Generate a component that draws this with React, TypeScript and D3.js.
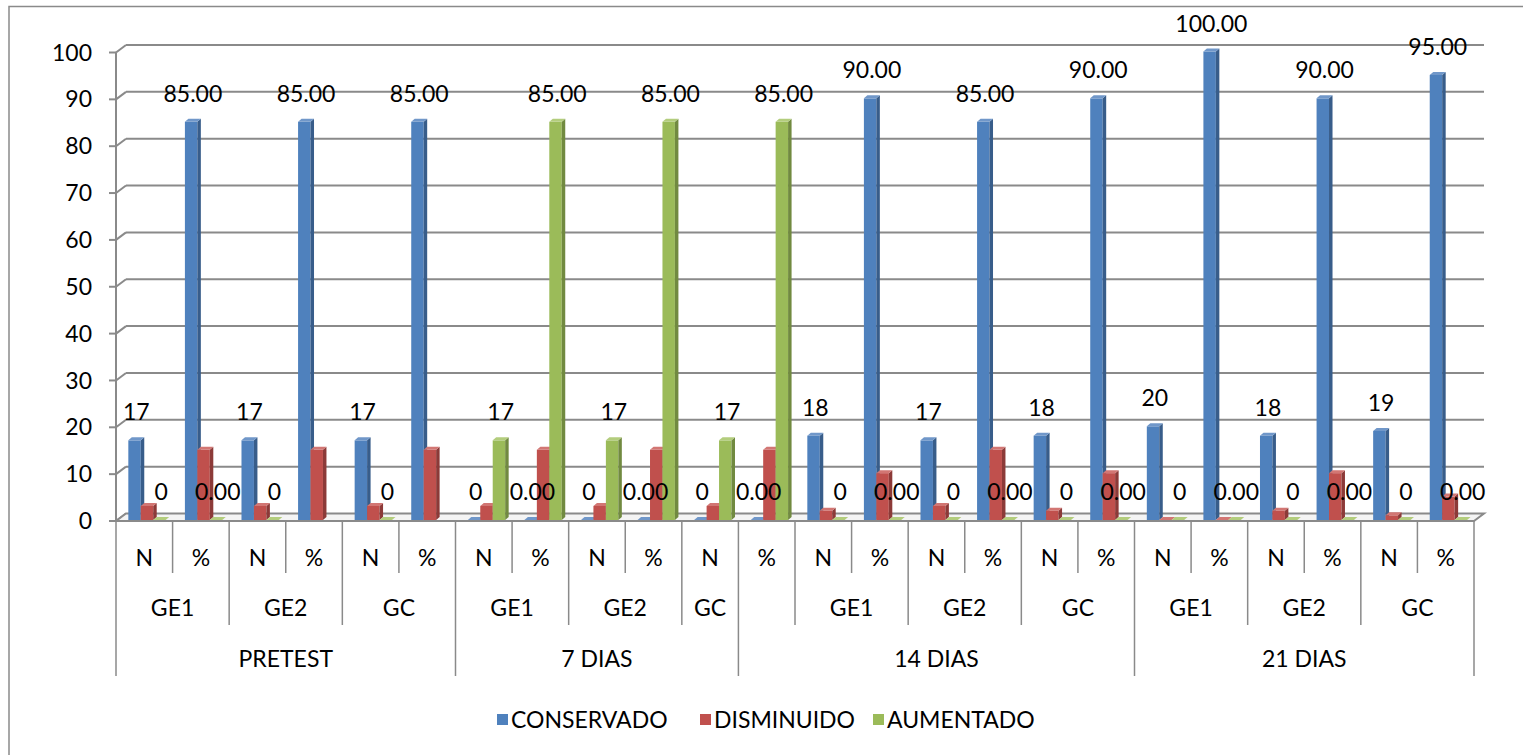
import React from "react";
import * as d3 from "d3";

// Category axis: measurement columns, sub-groups and periods
const categories = [
  "N", "%", "N", "%", "N", "%",
  "N", "%", "N", "%", "N",
  "%", "N", "%", "N", "%", "N", "%",
  "N", "%", "N", "%", "N", "%",
];
const groupLabels = ["GE1", "GE2", "GC", "GE1", "GE2", "GC", "", "GE1", "GE2", "GC", "GE1", "GE2", "GC"];
const groupSpans = [2, 2, 2, 2, 2, 1, 1, 2, 2, 2, 2, 2, 2];
const periodLabels = ["PRETEST", "7 DIAS", "14 DIAS", "21 DIAS"];
const periodSpans = [6, 5, 7, 6];

// Series values (null = no point)
const conservado: (number | null)[] = [17, 85, 17, 85, 17, 85, 0, 0, 0, 0, 0, 0, 18, 90, 17, 85, 18, 90, 20, 100, 18, 90, 19, 95];
const disminuido: (number | null)[] = [3, 15, 3, 15, 3, 15, 3, 15, 3, 15, 3, 15, 2, 10, 3, 15, 2, 10, 0, 0, 2, 10, 1, 5];
const aumentado: (number | null)[] = [0, 0, 0, null, 0, null, 17, 85, 17, 85, 17, 85, 0, 0, 0, 0, 0, 0, 0, 0, 0, 0, 0, 0];

const seriesNames = ["CONSERVADO", "DISMINUIDO", "AUMENTADO"];
const seriesValues = [conservado, disminuido, aumentado];
const seriesLabelled = [true, false, true];
const yTicks = [0, 10, 20, 30, 40, 50, 60, 70, 80, 90, 100];

const palette = [
  { front: "#4f81bd", side: "#385d8a", top: "#7097c9" },
  { front: "#c0504d", side: "#8c3a38", top: "#d27673" },
  { front: "#9bbb59", side: "#718a40", top: "#b3cd7d" },
];

const W = 1523;
const H = 755;
const X0 = 116;
const X1 = 1474;
const DX = 10; // wall depth offset
const DY = 7.5;
const BDX = 3.5; // bar depth offset
const BDY = 3;
const FONT = "Lato, 'Open Sans', sans-serif";
const FS = 23;
const GRID = "#8a8a8a";

export default function App() {
  const y = d3.scaleLinear().domain([0, 100]).range([521, 52.5]);
  const x = d3
    .scaleBand<number>()
    .domain(d3.range(categories.length))
    .range([X0, X1])
    .paddingInner(0.34)
    .paddingOuter(0.17);
  const xs = d3.scaleBand<number>().domain([0, 1, 2]).range([0, x.bandwidth()]);
  const bw = xs.bandwidth();
  const step = x.step();
  const catX = (i: number) => X0 + i * step;

  const cum = (spans: number[]) => {
    const out = [0];
    spans.forEach((s) => out.push(out[out.length - 1] + s));
    return out;
  };
  const periodEdges = cum(periodSpans);
  const groupEdges = cum(groupSpans);

  const fmtN = d3.format("d");
  const fmtP = d3.format(".2f");

  const bars: React.ReactNode[] = [];
  const labels: React.ReactNode[] = [];
  categories.forEach((cat, i) => {
    seriesValues.forEach((vals, s) => {
      const v = vals[i];
      if (v === null || v === undefined) return;
      const bx = (x(i) as number) + 2.7 + (xs(s) as number);
      const base = y(0) - 1;
      const top = y(v) - 1;
      const c = palette[s];
      bars.push(
        <g key={`b-${i}-${s}`}>
          {v > 0 && <rect x={bx} y={top} width={bw} height={base - top} fill={c.front} />}
          {v > 0 && (
            <polygon
              points={`${bx + bw},${top} ${bx + bw + BDX},${top - BDY} ${bx + bw + BDX},${base - BDY} ${bx + bw},${base}`}
              fill={c.side}
            />
          )}
          <polygon
            points={`${bx},${top} ${bx + BDX},${top - BDY} ${bx + bw + BDX},${top - BDY} ${bx + bw},${top}`}
            fill={c.top}
          />
        </g>
      );
      if (seriesLabelled[s]) {
        labels.push(
          <text
            key={`l-${i}-${s}`}
            x={bx + (bw + BDX) / 2}
            y={top - 28}
            dy="0.35em"
            textAnchor="middle"
          >
            {cat === "N" ? fmtN(v) : fmtP(v)}
          </text>
        );
      }
    });
  });

  const sepDepth = (b: number) => {
    if (periodEdges.includes(b)) return 676;
    if (groupEdges.includes(b)) return 625;
    return 573;
  };

  const legendX = [497, 700, 873];

  return (
    <svg
      width={W}
      height={H}
      style={{ position: "absolute", left: 0, top: 0, background: "#fff" }}
      fontFamily={FONT}
      fontSize={FS}
      fontWeight={400}
    >
      <rect x={9} y={6.5} width={W} height={H} fill="#fff" stroke={GRID} strokeWidth={1.5} />

      {/* back wall gridlines and side-wall connectors */}
      {yTicks.map((t) => (
        <g key={`g-${t}`} stroke={GRID} strokeWidth={2} fill="none">
          <line x1={X0 - 7} x2={X0} y1={y(t)} y2={y(t)} />
          <line x1={X0} x2={X0 + DX} y1={y(t)} y2={y(t) - DY} />
          {t > 0 && <line x1={X0 + DX} x2={X1 + DX} y1={y(t) - DY} y2={y(t) - DY} />}
        </g>
      ))}

      {/* floor */}
      <polygon
        points={`${X0},${y(0)} ${X1},${y(0)} ${X1 + DX},${y(0) - DY} ${X0 + DX},${y(0) - DY}`}
        fill="#f4f4f4"
        stroke={GRID}
        strokeWidth={2}
      />
      <line x1={X0} x2={X0} y1={y(100)} y2={y(0)} stroke={GRID} strokeWidth={2} />

      {bars}

      {/* y-axis labels */}
      {yTicks.map((t) => (
        <text key={`yt-${t}`} x={92} y={y(t)} dy="0.35em" textAnchor="end">
          {t}
        </text>
      ))}

      {labels}

      {/* multi-level category axis */}
      {d3.range(categories.length + 1).map((b) => (
        <line key={`s-${b}`} x1={catX(b)} x2={catX(b)} y1={y(0)} y2={sepDepth(b)} stroke={GRID} strokeWidth={1.5} />
      ))}
      {categories.map((c, i) => (
        <text key={`c-${i}`} x={catX(i) + step / 2} y={558} dy="0.35em" textAnchor="middle">
          {c}
        </text>
      ))}
      {groupLabels.map((g, k) => (
        <text
          key={`gl-${k}`}
          x={catX(groupEdges[k]) + (groupSpans[k] * step) / 2}
          y={608}
          dy="0.35em"
          textAnchor="middle"
        >
          {g}
        </text>
      ))}
      {periodLabels.map((p, k) => (
        <text
          key={`pl-${k}`}
          x={catX(periodEdges[k]) + (periodSpans[k] * step) / 2}
          y={659}
          dy="0.35em"
          textAnchor="middle"
        >
          {p}
        </text>
      ))}

      {/* legend */}
      {seriesNames.map((n, s) => (
        <g key={`lg-${s}`}>
          <rect x={legendX[s]} y={714} width={11} height={11} fill={palette[s].front} />
          <text x={legendX[s] + 14} y={720} dy="0.35em">
            {n}
          </text>
        </g>
      ))}
    </svg>
  );
}
